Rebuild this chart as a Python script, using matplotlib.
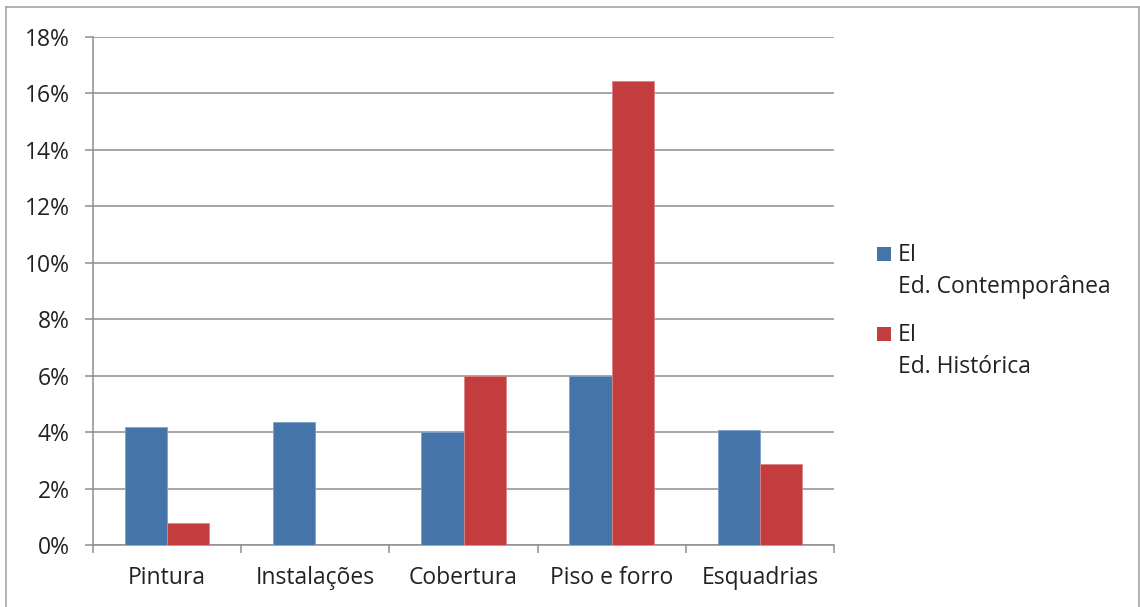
import matplotlib
matplotlib.use("Agg")
import matplotlib.pyplot as plt
from matplotlib.lines import Line2D
from matplotlib.patches import Rectangle
from matplotlib.transforms import ScaledTranslation
import numpy as np

categories = ["Pintura", "Instalações", "Cobertura", "Piso e forro", "Esquadrias"]
series_names = ["EI\nEd. Contemporânea", "EI\nEd. Histórica"]
contemporanea = [4.19, 4.37, 4.00, 6.00, 4.10]
historica = [0.78, 0.0, 6.00, 16.45, 2.87]
y_ticks = [0, 2, 4, 6, 8, 10, 12, 14, 16, 18]

blue = "#4575A8"
red = "#C33C3E"
grid_gray = "#8E8E8E"
text_color = "#222222"
fs = 16.5

plt.rcParams["font.family"] = ["Open Sans", "DejaVu Sans"]

W, H = 1140, 607
fig = plt.figure(figsize=(W / 100, H / 100), dpi=100)
ax = fig.add_axes([93 / W, 1 - 545.3 / H, (834 - 93) / W, (545.3 - 37) / H])

x = np.arange(len(categories))
bw = 0.286
ax.bar(x - bw / 2, contemporanea, width=bw, color=blue, edgecolor="#7FA3CC", linewidth=0.6, zorder=3)
ax.bar(x + bw / 2, historica, width=bw, color=red, edgecolor="#DA8485", linewidth=0.6, zorder=3)

ax.set_xlim(-0.5, len(categories) - 0.5)
ax.set_ylim(0, 18)
ax.set_yticks(y_ticks)
ax.set_yticklabels([f"{v}%" for v in y_ticks], fontsize=fs, color=text_color)
ax.yaxis.grid(True, color=grid_gray, linewidth=1.1, zorder=0)
ax.set_axisbelow(True)

# nudge the percentage labels up so they sit centred on their gridlines
lift = ScaledTranslation(0, 2.5 / 100, fig.dpi_scale_trans)
for lbl in ax.get_yticklabels():
    lbl.set_transform(lbl.get_transform() + lift)

ax.set_xticks(x)
ax.set_xticklabels(categories, fontsize=fs, color=text_color)
ax.set_xticks(np.arange(len(categories) + 1) - 0.5, minor=True)
ax.tick_params(axis="x", which="major", length=0, pad=15)
ax.tick_params(axis="x", which="minor", length=5.8, color=grid_gray, width=1.1, direction="out")
ax.tick_params(axis="y", length=5.8, color=grid_gray, width=1.1, direction="out", pad=11)

for side in ["top", "right"]:
    ax.spines[side].set_visible(False)
for side in ["left", "bottom"]:
    ax.spines[side].set_color(grid_gray)
    ax.spines[side].set_linewidth(1.1)

# legend drawn at the right of the plot area, one text line at a time
entry_colors = [blue, red]
entry_tops = [247.3, 327.3]
line_gap = 32
for name, col, top in zip(series_names, entry_colors, entry_tops):
    fig.patches.append(Rectangle((877 / W, 1 - (top + 13.5) / H), 13.8 / W, 13.5 / H,
                                 transform=fig.transFigure, facecolor=col,
                                 edgecolor="none"))
    for i, line in enumerate(name.split("\n")):
        fig.text(898 / W, 1 - (top + 14 + i * line_gap) / H, line, fontsize=fs,
                 color=text_color, va="baseline", ha="left")

# outer frame (top, left, right)
frame_kw = dict(transform=fig.transFigure, color="#A6A6A6", linewidth=1.2)
fig.lines.append(Line2D([5.5 / W, 1138.5 / W], [1 - 7 / H, 1 - 7 / H], **frame_kw))
fig.lines.append(Line2D([5.5 / W, 5.5 / W], [0, 1 - 7 / H], **frame_kw))
fig.lines.append(Line2D([1138.5 / W, 1138.5 / W], [0, 1 - 7 / H], **frame_kw))

fig.savefig("out.png", dpi=100)
